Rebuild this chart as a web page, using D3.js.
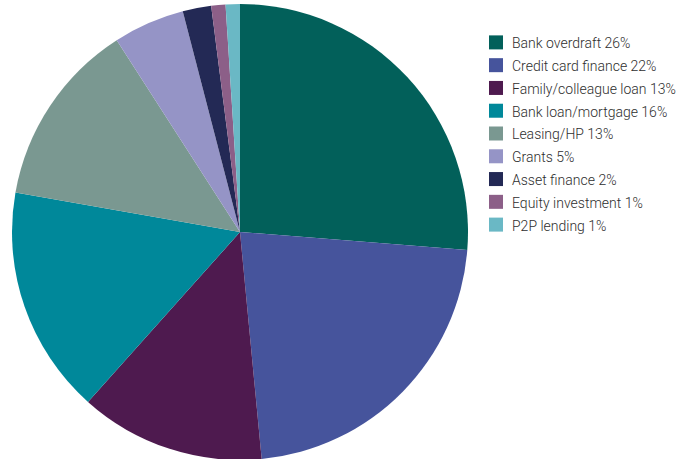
<!DOCTYPE html>
<html><head><meta charset="utf-8">
<script src="https://cdn.jsdelivr.net/npm/d3@7"></script>
<style>body{margin:0;background:#fff;}svg{display:block;}</style>
</head><body>
<svg id="c" width="684" height="459"></svg>
<script>
const categories = ["Bank overdraft","Credit card finance","Family/colleague loan","Bank loan/mortgage","Leasing/HP","Grants","Asset finance","Equity investment","P2P lending"];
const values = [26,22,13,16,13,5,2,1,1];
const colors = ["#02605a","#46549c","#4e1a4f","#00889a","#7a9891","#9594c6","#232955","#8c5f88","#6ab8c5"];

const svg = d3.select("#c");
const cx = 240, cy = 232, r = 228;
const data = categories.map((c,i)=>({name:c, value:values[i], color:colors[i]}));
const pie = d3.pie().sort(null).value(d=>d.value);
const arc = d3.arc().innerRadius(0).outerRadius(r);
const g = svg.append("g").attr("transform",`translate(${cx},${cy})`);
g.selectAll("path").data(pie(data)).join("path")
  .attr("d",arc).attr("fill",d=>d.color || d.data.color);

const y = d3.scaleBand().domain(categories).range([31,236]);
const lg = svg.append("g");
const rows = lg.selectAll("g").data(data).join("g")
  .attr("transform",d=>`translate(489,${y(d.name)})`);
rows.append("rect").attr("width",14).attr("height",14).attr("y",y.bandwidth()/2-7).attr("fill",d=>d.color);
rows.append("text").attr("x",23).attr("y",y.bandwidth()/2+1).attr("dy","0.35em")
  .attr("font-family","Roboto, sans-serif").attr("font-weight",300).attr("font-size",14).attr("fill","#2e2e2e")
  .text(d=>`${d.name} ${d.value}%`);
</script>
</body></html>
